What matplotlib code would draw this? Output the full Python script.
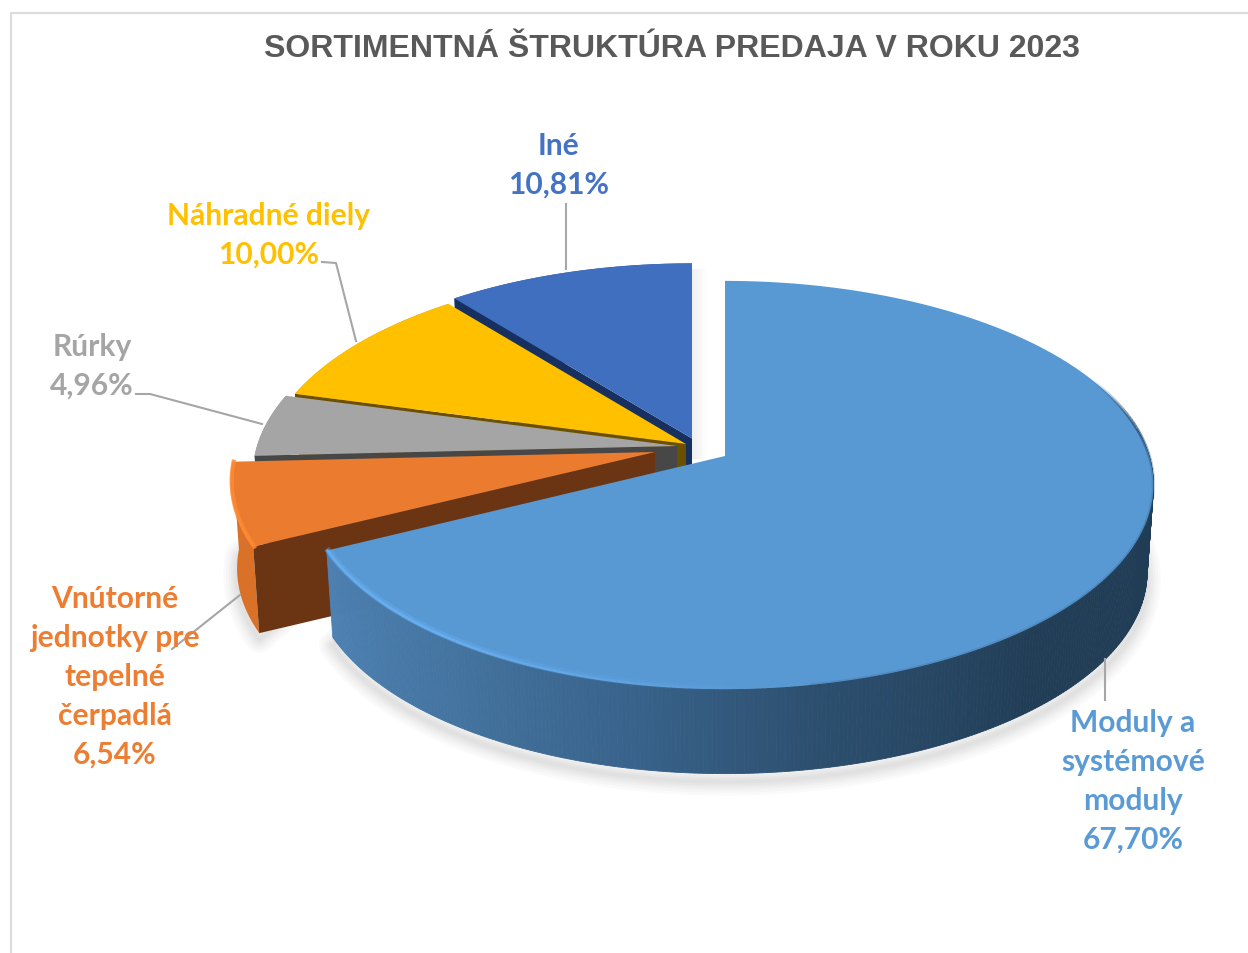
import numpy as np
import matplotlib
matplotlib.use("Agg")
import matplotlib.pyplot as plt
from matplotlib.patches import Polygon

# Data
categories = ["Moduly a systémové moduly", "Vnútorné jednotky pre tepelné čerpadlá",
              "Rúrky", "Náhradné diely", "Iné"]
shares = [67.70, 6.54, 4.96, 10.00, 10.81]
label_lines = [["Moduly a", "systémové", "moduly"],
               ["Vnútorné", "jednotky pre", "tepelné", "čerpadlá"],
               ["Rúrky"], ["Náhradné diely"], ["Iné"]]
title = "SORTIMENTNÁ ŠTRUKTÚRA PREDAJA V ROKU 2023"

# Styles, one per slice
top_colors = ["#5899D4", "#EB7B2F", "#A5A5A5", "#FFC000", "#3F6FBE"]
text_colors = ["#5B9BD5", "#ED7D31", "#A5A5A5", "#FFC000", "#4472C4"]
edge_colors = ["#23405A", "#6B3513", "#474747", "#6B5000", "#17305F"]
wall_colors = ["#23405A", "#D97128", "#8A8A8A", "#C99700", "#2F5597"]
apexes = [(725, 457), (655, 453), (677, 447), (686, 445), (692, 439.5)]
skews = [0.01, 0, 0, 0, 0]
label_x = [1133, 115, 92, 269, 559]
label_y = [723, 599, 347, 216, 146]
line_step = 39

# Projection of the tilted pie
RX = 420
RY = 200
DEPTH = 7.04
HEIGHT = 88
BOTTOM = 0.985


def project(i, theta, scale=1.0, drop=0):
    u = np.sin(theta)
    v = -np.cos(theta)
    p = DEPTH / (DEPTH - v)
    x = apexes[i][0] + RX * u * p * scale * (1 + skews[i] * u)
    y = apexes[i][1] + RY * v * p * scale + drop
    return np.column_stack([x, y])


fig = plt.figure(figsize=(12.48, 9.54), dpi=100)
ax = fig.add_axes([0, 0, 1, 1])
ax.set_xlim(0, 1248)
ax.set_ylim(954, 0)
ax.axis("off")

# Chart frame
ax.plot([10.5, 10.5, 1248], [954, 13.5, 13.5], color="#DCDCDC", lw=1.6, zorder=1)

ends = np.cumsum(shares) / np.sum(shares) * 2 * np.pi
starts = np.concatenate([[0], ends[:-1]])

# Soft shadow below the blue and orange slices
for idx, shift in [(0, 8), (1, 6)]:
    t = np.linspace(starts[idx], ends[idx], 160)
    if idx == 0:
        t = np.linspace(np.pi * 0.42, ends[idx], 160)
    base = project(idx, t, BOTTOM, HEIGHT + shift)
    base = np.vstack([base, project(idx, t[::-1], 0.8, HEIGHT - 40)])
    for lw in [20, 16, 12, 9, 6, 3]:
        ax.add_patch(Polygon(base, closed=True, fc="none", ec="#000000", lw=lw,
                             alpha=0.02, joinstyle="round", zorder=2))

# Light strip in the gap beside the blue slice
gap = np.linspace(0.08, 0, 16)
for i, a in enumerate(gap):
    ax.fill_between([692 + i, 693 + i], 270, 460, color="#000000", alpha=a * 0.8, lw=0, zorder=2)

# Slices from back to front
order = [4, 3, 2, 1, 0]
for z, i in enumerate(order):
    base_z = 3 + z * 3
    a = apexes[i]
    t = np.linspace(starts[i], ends[i], 240)
    rim = project(i, t)

    # outer wall
    if i == 0:
        wall_t = np.linspace(np.radians(82), ends[i], 300)
        stops_t = np.radians([82, 140, 170, 190, 215, 243.7])
        stops_rgb = np.array([matplotlib.colors.to_rgb(c) for c in
                              ["#203C54", "#223E57", "#2D5070", "#38628A", "#4474A0", "#4E82B4"]])
        for k in range(len(wall_t) - 1):
            pair = wall_t[k:k + 2]
            quad = np.vstack([project(i, pair), project(i, pair[::-1], BOTTOM, HEIGHT)])
            col = [np.interp(pair[0], stops_t, stops_rgb[:, c]) for c in range(3)]
            ax.add_patch(Polygon(quad, closed=True, fc=col, ec=col, lw=0.6, zorder=base_z))
    else:
        wall = np.vstack([rim, project(i, t[::-1], BOTTOM, HEIGHT)])
        ax.add_patch(Polygon(wall, closed=True, fc=wall_colors[i], ec="none", zorder=base_z))

    # radial wall that faces the viewer
    if i != 0:
        edge = np.array([a, project(i, starts[i])[0],
                         project(i, starts[i], BOTTOM, HEIGHT)[0], (a[0], a[1] + HEIGHT)])
        ax.add_patch(Polygon(edge, closed=True, fc=edge_colors[i], ec="none", zorder=base_z + 1))

    # top face
    top = np.vstack([[a], rim])
    ax.add_patch(Polygon(top, closed=True, fc=top_colors[i], ec="none", zorder=base_z + 2))

# Bevel on the rim of the blue slice: dark on the right, bright at the left front
t = np.linspace(np.radians(66), np.radians(170), 120)
line = project(0, t)
for k in range(len(t) - 1):
    deg = np.degrees(t[k])
    alpha = 0.75 * np.interp(deg, [66, 80, 95, 170], [0, 1, 0.3, 0.2])
    ax.plot(line[k:k + 2, 0], line[k:k + 2, 1], color="#2A4E70", lw=2.4, alpha=alpha,
            solid_capstyle="butt", zorder=20)
t = np.linspace(np.radians(175), ends[0], 120)
line = project(0, t)
for k in range(len(t) - 1):
    alpha = np.clip((t[k] - t[0]) / (t[-1] - t[0]) * 1.6, 0, 1)
    ax.plot(line[k:k + 2, 0], line[k:k + 2, 1] - 2, color="#6AB2F5", lw=4.5, alpha=alpha * 0.35,
            solid_capstyle="butt", zorder=20)
    ax.plot(line[k:k + 2, 0], line[k:k + 2, 1] - 1, color="#6AB2F5", lw=2, alpha=alpha * 0.8,
            solid_capstyle="butt", zorder=20)

# Bright rim of the orange slice
t = np.linspace(starts[1], ends[1], 60)
line = project(1, t)
ax.plot(line[:, 0] + 1, line[:, 1], color="#FF8A33", lw=3, alpha=0.85, zorder=20)

# Leader lines
leaders = [([1105, 1105], [660, 701]),
           ([240, 172], [596, 650]),
           ([136, 150, 262], [395, 395, 425]),
           ([322, 336, 356], [263, 264, 342]),
           ([566, 566], [205, 270])]
for xs, ys in leaders:
    ax.plot(xs, ys, color="#A6A6A6", lw=1.5, zorder=21)

# Labels
for i in range(len(categories)):
    lines = label_lines[i] + [f"{shares[i]:.2f}%".replace(".", ",")]
    for n, line in enumerate(lines):
        ax.text(label_x[i], label_y[i] + n * line_step, line, color=text_colors[i],
                family="Lato", fontweight="bold", fontsize=21.6, ha="center", va="center", zorder=22)

ax.text(672, 49, title, color="#595959", family="Liberation Sans", fontweight="bold",
        fontsize=23, ha="center", va="center", zorder=22)

fig.savefig("out.png", dpi=100)
